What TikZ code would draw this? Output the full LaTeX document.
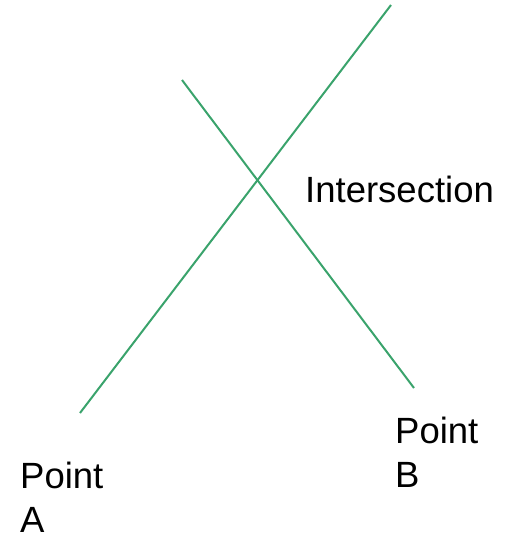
\documentclass[tikz,border=0pt]{standalone}
\usepackage{fontspec}
\setmainfont{Liberation Sans}
\usepackage{tikz}
\usetikzlibrary{positioning}
\definecolor{linegreen}{HTML}{3AA36C}

\begin{document}
\begin{tikzpicture}[
  x=1pt, y=-1pt,
  ray/.style={draw=linegreen, line width=2pt},
  label text/.style={inner sep=0pt, anchor=base west, align=left, font=\fontsize{36.5}{44}\selectfont}
]
  \useasboundingbox (0,0) rectangle (505,538);
  % end points of the two lines
  \coordinate (aStart) at (80,413);
  \coordinate (aEnd) at (391,5);
  \coordinate (bStart) at (182,80);
  \coordinate (bEnd) at (414,388);
  \draw[ray] (aStart) -- (aEnd);
  \draw[ray] (bStart) -- (bEnd);
  % labels
  \node[label text] (cross) at (305,202) {Intersection};
  \node[label text] (pointA) at (20,532) {Point\\A};
  \node[label text] (pointB) at (395,487) {Point\\B};
\end{tikzpicture}
\end{document}
